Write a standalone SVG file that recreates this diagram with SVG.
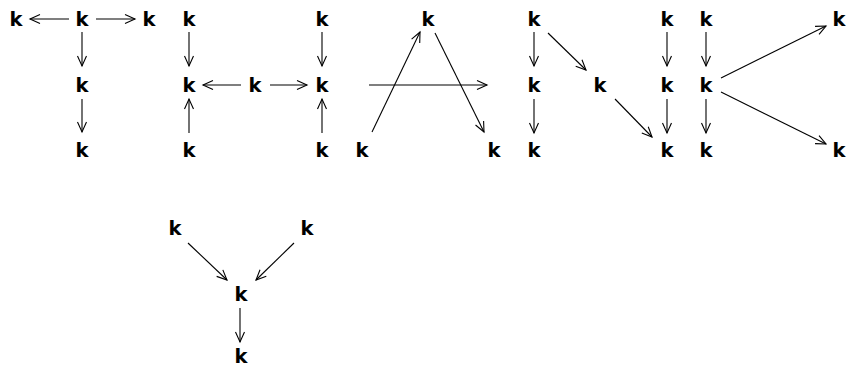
<svg xmlns="http://www.w3.org/2000/svg" width="847" height="368" viewBox="0 0 847 368">
<style>
text{font-family:"DejaVu Sans","Liberation Sans",sans-serif;font-weight:bold;font-size:19.5px;text-anchor:middle;fill:#000}
.e{stroke:#000;stroke-width:1.1;fill:none;marker-end:url(#ah)}
</style>
<defs>
<marker id="ah" markerUnits="userSpaceOnUse" viewBox="-10 -5 11 10" refX="0" refY="0" markerWidth="11" markerHeight="10" orient="auto" overflow="visible">
<path d="M-10,-4.5 L0,0 L-10,4.5" fill="none" stroke="#000" stroke-width="1.1"/>
</marker>
</defs>
<rect width="847" height="368" fill="#fff"/>
<g id="connectors">
<line class="e" x1="69" y1="19" x2="30" y2="19"/>
<line class="e" x1="96" y1="19" x2="135" y2="19"/>
<line class="e" x1="82" y1="32" x2="82" y2="66"/>
<line class="e" x1="82" y1="99" x2="82" y2="132"/>
<line class="e" x1="189" y1="32" x2="189" y2="66"/>
<line class="e" x1="189" y1="133" x2="189" y2="99"/>
<line class="e" x1="241" y1="85" x2="203" y2="85"/>
<line class="e" x1="270" y1="85" x2="307" y2="85"/>
<line class="e" x1="322" y1="32" x2="322" y2="66"/>
<line class="e" x1="322" y1="133" x2="322" y2="99"/>
<line class="e" x1="372" y1="132" x2="420" y2="32"/>
<line class="e" x1="435" y1="33" x2="484" y2="132"/>
<line class="e" x1="369" y1="85" x2="487" y2="85"/>
<line class="e" x1="534" y1="32" x2="534" y2="66"/>
<line class="e" x1="534" y1="99" x2="534" y2="133"/>
<line class="e" x1="548" y1="33" x2="586" y2="70"/>
<line class="e" x1="615" y1="99" x2="652" y2="137"/>
<line class="e" x1="667" y1="32" x2="667" y2="66"/>
<line class="e" x1="667" y1="99" x2="667" y2="133"/>
<line class="e" x1="706" y1="32" x2="706" y2="66"/>
<line class="e" x1="706" y1="99" x2="706" y2="133"/>
<line class="e" x1="721" y1="78" x2="826" y2="26"/>
<line class="e" x1="721" y1="92" x2="826" y2="144"/>
<line class="e" x1="188" y1="243" x2="227" y2="280"/>
<line class="e" x1="294" y1="243" x2="256" y2="280"/>
<line class="e" x1="240" y1="308" x2="240" y2="342"/>
</g>
<g id="n1"><text x="16" y="26">k</text></g>
<g id="n2"><text x="82" y="26">k</text></g>
<g id="n3"><text x="149" y="26">k</text></g>
<g id="n4"><text x="82" y="92">k</text></g>
<g id="n5"><text x="82" y="157">k</text></g>
<g id="n6"><text x="189" y="26">k</text></g>
<g id="n7"><text x="189" y="92">k</text></g>
<g id="n8"><text x="189" y="157">k</text></g>
<g id="n9"><text x="255" y="92">k</text></g>
<g id="n10"><text x="322" y="26">k</text></g>
<g id="n11"><text x="322" y="92">k</text></g>
<g id="n12"><text x="322" y="157">k</text></g>
<g id="n13"><text x="428" y="26">k</text></g>
<g id="n14"><text x="362" y="157">k</text></g>
<g id="n15"><text x="494" y="157">k</text></g>
<g id="n16"><text x="534" y="26">k</text></g>
<g id="n17"><text x="534" y="92">k</text></g>
<g id="n18"><text x="534" y="157">k</text></g>
<g id="n19"><text x="600" y="92">k</text></g>
<g id="n20"><text x="667" y="26">k</text></g>
<g id="n21"><text x="667" y="92">k</text></g>
<g id="n22"><text x="667" y="157">k</text></g>
<g id="n23"><text x="706" y="26">k</text></g>
<g id="n24"><text x="706" y="92">k</text></g>
<g id="n25"><text x="706" y="157">k</text></g>
<g id="n26"><text x="839" y="26">k</text></g>
<g id="n27"><text x="839" y="157">k</text></g>
<g id="n28"><text x="175" y="235">k</text></g>
<g id="n29"><text x="307" y="235">k</text></g>
<g id="n30"><text x="241" y="301">k</text></g>
<g id="n31"><text x="241" y="363">k</text></g>
</svg>
